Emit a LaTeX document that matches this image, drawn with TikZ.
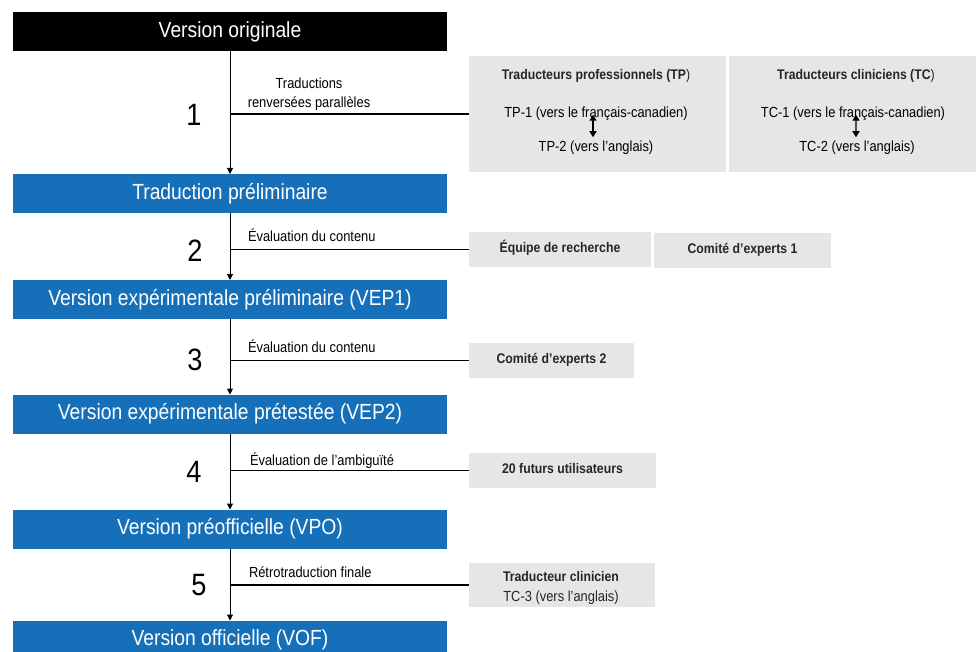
\documentclass[tikz,border=0pt]{standalone}
\usepackage{fontspec}
\setmainfont[FakeStretch=0.88]{Liberation Sans}
\usetikzlibrary{positioning, arrows.meta}
\definecolor{stageblue}{RGB}{21,112,185}
\definecolor{panelgray}{RGB}{230,230,230}

\begin{document}
\begin{tikzpicture}[x=1bp, y=-1bp,
        every node/.style={inner sep=0pt, outer sep=0pt},
        stage/.style={rectangle, fill=stageblue, text=white, minimum width=434bp, minimum height=39bp, font=\fontsize{22}{24}\selectfont},
        panel/.style={rectangle, fill=panelgray},
        lbl/.style={font=\fontsize{14.7}{19}\selectfont, text height=10.5bp, text depth=3bp},
        bld/.style={font=\fontsize{14}{19}\selectfont\bfseries, text=black!85, text height=10.5bp, text depth=3bp},
        num/.style={font=\fontsize{31}{34}\selectfont},
        flow/.style={line width=1bp, -{Triangle[length=6bp, width=6bp]}},
        dbl/.style={line width=1.2bp, {Triangle[length=6bp, width=7bp]}-{Triangle[length=6bp, width=7bp]}},
        branch/.style={line width=1.2bp}]
        \useasboundingbox (0,0) rectangle (976,652);

        % Versions
        \node[stage, fill=black] (vo) at (230,32) {Version originale};
        \node[stage] (tpre) at (230,193.5) {Traduction préliminaire};
        \node[stage] (vep1) at (230,299.5) {Version expérimentale préliminaire (VEP1)};
        \node[stage] (vep2) at (230,414) {Version expérimentale prétestée (VEP2)};
        \node[stage] (vpo) at (230,529) {Version préofficielle (VPO)};
        \node[stage] (vof) at (230,640) {Version officielle (VOF)};

        \draw[flow] (vo) -- (tpre);
        \draw[flow] (tpre) -- (vep1);
        \draw[flow] (vep1) -- (vep2);
        \draw[flow] (vep2) -- (vpo);
        \draw[flow] (vpo) -- (vof);

        % Steps
        \node[num] (n1) at (194,115) {1};
        \node[num] (n2) at (195,251) {2};
        \node[num] (n3) at (195,360) {3};
        \node[num] (n4) at (194,472) {4};
        \node[num] (n5) at (199,585) {5};

        \node[font=\fontsize{14.7}{19}\selectfont, align=center] (l1) at (309,94) {Traductions\\renversées parallèles};
        \node[lbl, anchor=west] (l2) at (248,238) {Évaluation du contenu};
        \node[lbl, anchor=west] (l3) at (248,349) {Évaluation du contenu};
        \node[lbl, anchor=west] (l4) at (250,462) {Évaluation de l’ambiguïté};
        \node[lbl, anchor=west] (l5) at (249,574) {Rétrotraduction finale};

        % Panels
        \node[panel, minimum width=257bp, minimum height=116bp] (tp) at (597.5,114) {};
        \node[panel, minimum width=247bp, minimum height=116bp] (tc) at (852.5,114) {};
        \node[panel, minimum width=182bp, minimum height=35bp] (eq) at (560,249.5) {};
        \node[panel, minimum width=177bp, minimum height=35bp] (ce1) at (742.5,250.5) {};
        \node[panel, minimum width=165bp, minimum height=35bp] (ce2) at (551.5,360.5) {};
        \node[panel, minimum width=187bp, minimum height=35bp] (fu) at (562.5,470.5) {};
        \node[panel, minimum width=186bp, minimum height=44bp] (tcl) at (562,585) {};

        \node[bld] (tpt) at (596,76) {Traducteurs professionnels (TP\textmd{)}};
        \node[lbl] (tp1) at (596,114) {TP-1 (vers le français-canadien)};
        \node[lbl] (tp2) at (596,148) {TP-2 (vers l’anglais)};
        \draw[dbl] ([xshift=-3bp, yshift=6bp]tp1.south) -- ([xshift=-3bp, yshift=4bp]tp2.north);

        \node[bld] (tct) at (856,76) {Traducteurs cliniciens (TC\textmd{)}};
        \node[lbl] (tc1) at (853,114) {TC-1 (vers le français-canadien)};
        \node[lbl] (tc2) at (857,148) {TC-2 (vers l’anglais)};
        \draw[dbl] ([xshift=3bp, yshift=6bp]tc1.south) -- ([xshift=-1bp, yshift=4bp]tc2.north);

        \node[bld] (eqt) at ([yshift=1bp]eq) {Équipe de recherche};
        \node[bld] (ce1t) at ([yshift=1bp]ce1) {Comité d’experts 1};
        \node[bld] (ce2t) at ([yshift=1bp]ce2) {Comité d’experts 2};
        \node[bld] (fut) at ([yshift=1bp]fu) {20 futurs utilisateurs};
        \node[bld] (tclt) at (561,578) {Traducteur clinicien};
        \node[lbl, text=black!85] (tc3) at (561,598) {TC-3 (vers l’anglais)};

        % Branches
        \coordinate (b1) at (vo.south |- tp.west);
        \coordinate (b2) at (vo.south |- eq.west);
        \coordinate (b3) at (vo.south |- ce2.west);
        \coordinate (b4) at (vo.south |- fu.west);
        \coordinate (b5) at (vo.south |- tcl.west);
        \draw[branch] (b1) -- (tp.west);
        \draw[branch] (b2) -- (eq.west);
        \draw[branch] (b3) -- (ce2.west);
        \draw[branch] (b4) -- (fu.west);
        \draw[branch] (b5) -- (tcl.west);
    \end{tikzpicture}
\end{document}
